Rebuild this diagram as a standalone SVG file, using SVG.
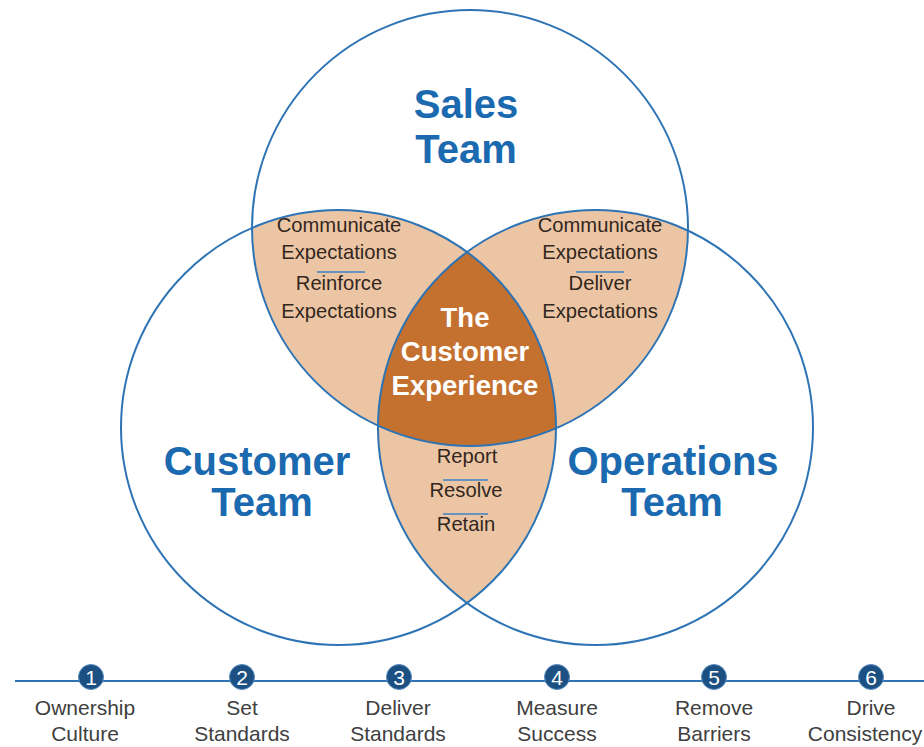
<svg xmlns="http://www.w3.org/2000/svg" width="924" height="747" viewBox="0 0 924 747">
<style>
.ring{fill:none;stroke:#2E74B5;stroke-width:2}
.tan{fill:#ECC6A4}
.core{fill:#C4702F}
.title{font-family:"Liberation Sans",Arial,sans-serif;font-weight:bold;font-size:40px;fill:#1B6AB0;text-anchor:middle}
.core-t{font-family:"Liberation Sans",Arial,sans-serif;font-weight:bold;font-size:27.5px;fill:#FFFFFF;text-anchor:middle}
.lens-t{font-family:"Liberation Sans",Arial,sans-serif;font-size:20.2px;fill:#33261E;text-anchor:middle}
.sep{stroke:#3B82C4;stroke-width:1.5}
.step-c{fill:#1C4F82;stroke:#5A8CC0;stroke-width:1}
.step-n{font-family:"Liberation Sans",Arial,sans-serif;font-size:21px;fill:#FFFFFF;text-anchor:middle}
.step-t{font-family:"Liberation Sans",Arial,sans-serif;font-size:21px;fill:#404040;text-anchor:middle}
.line{stroke:#2E74B5;stroke-width:2}
</style>
<defs>
<clipPath id="cTop"><circle cx="470" cy="228" r="218"/></clipPath>
<clipPath id="cLeft"><circle cx="338.5" cy="427.5" r="217.5"/></clipPath>
<clipPath id="cRight"><circle cx="595.5" cy="427.5" r="217.5"/></clipPath>
</defs>
<rect width="924" height="747" fill="#FFFFFF"/>

<g id="overlap-sales-customer">
<circle class="tan" cx="338.5" cy="427.5" r="217.5" clip-path="url(#cTop)"/>
</g>
<g id="overlap-sales-operations">
<circle class="tan" cx="595.5" cy="427.5" r="217.5" clip-path="url(#cTop)"/>
</g>
<g id="overlap-customer-operations">
<circle class="tan" cx="338.5" cy="427.5" r="217.5" clip-path="url(#cRight)"/>
</g>
<g id="customer-experience">
<g clip-path="url(#cTop)"><circle class="core" cx="338.5" cy="427.5" r="217.5" clip-path="url(#cRight)"/></g>
</g>

<g id="sales-team">
<circle class="ring" cx="470" cy="228" r="218"/>
<text class="title" x="466" y="118">Sales</text>
<text class="title" x="466" y="163">Team</text>
</g>
<g id="customer-team">
<circle class="ring" cx="338.5" cy="427.5" r="217.5"/>
<text class="title" x="257" y="475">Customer</text>
<text class="title" x="262" y="516">Team</text>
</g>
<g id="operations-team">
<circle class="ring" cx="595.5" cy="427.5" r="217.5"/>
<text class="title" x="673" y="475">Operations</text>
<text class="title" x="672" y="516">Team</text>
</g>

<g id="customer-experience-label">
<text class="core-t" x="465" y="327">The</text>
<text class="core-t" x="465" y="361">Customer</text>
<text class="core-t" x="465" y="395">Experience</text>
</g>

<g id="sales-customer-label">
<text class="lens-t" x="339" y="232">Communicate</text>
<text class="lens-t" x="339" y="259">Expectations</text>
<line class="sep" x1="317" y1="272" x2="365" y2="272"/>
<text class="lens-t" x="339" y="290">Reinforce</text>
<text class="lens-t" x="339" y="318">Expectations</text>
</g>
<g id="sales-operations-label">
<text class="lens-t" x="600" y="232">Communicate</text>
<text class="lens-t" x="600" y="259">Expectations</text>
<line class="sep" x1="576" y1="272" x2="624" y2="272"/>
<text class="lens-t" x="600" y="290">Deliver</text>
<text class="lens-t" x="600" y="318">Expectations</text>
</g>
<g id="customer-operations-label">
<text class="lens-t" x="467" y="463">Report</text>
<line class="sep" x1="443" y1="480" x2="488" y2="480"/>
<text class="lens-t" x="466" y="497">Resolve</text>
<line class="sep" x1="443" y1="514" x2="488" y2="514"/>
<text class="lens-t" x="466" y="531">Retain</text>
</g>

<g id="connectors">
<line class="line" x1="15" y1="681" x2="924" y2="681"/>
</g>

<g id="step-1">
<circle class="step-c" cx="91" cy="677" r="12.5"/>
<text class="step-n" x="91" y="684.5">1</text>
<text class="step-t" x="85" y="715">Ownership</text>
<text class="step-t" x="85" y="741">Culture</text>
</g>
<g id="step-2">
<circle class="step-c" cx="242" cy="677" r="12.5"/>
<text class="step-n" x="242" y="684.5">2</text>
<text class="step-t" x="242" y="715">Set</text>
<text class="step-t" x="242" y="741">Standards</text>
</g>
<g id="step-3">
<circle class="step-c" cx="399" cy="677" r="12.5"/>
<text class="step-n" x="399" y="684.5">3</text>
<text class="step-t" x="398" y="715">Deliver</text>
<text class="step-t" x="398" y="741">Standards</text>
</g>
<g id="step-4">
<circle class="step-c" cx="557" cy="677" r="12.5"/>
<text class="step-n" x="557" y="684.5">4</text>
<text class="step-t" x="557" y="715">Measure</text>
<text class="step-t" x="557" y="741">Success</text>
</g>
<g id="step-5">
<circle class="step-c" cx="714" cy="677" r="12.5"/>
<text class="step-n" x="714" y="684.5">5</text>
<text class="step-t" x="714" y="715">Remove</text>
<text class="step-t" x="714" y="741">Barriers</text>
</g>
<g id="step-6">
<circle class="step-c" cx="871" cy="677" r="12.5"/>
<text class="step-n" x="871" y="684.5">6</text>
<text class="step-t" x="871" y="715">Drive</text>
<text class="step-t" x="865" y="741">Consistency</text>
</g>
</svg>
